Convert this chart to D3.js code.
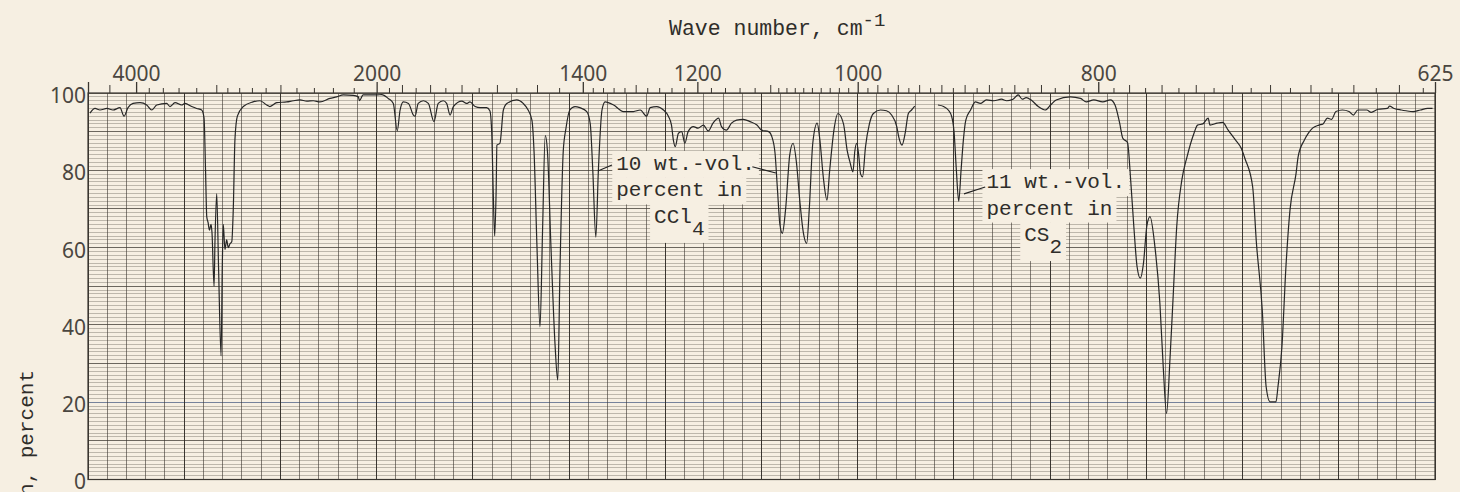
<!DOCTYPE html>
<html><head><meta charset="utf-8">
<script src="https://cdn.jsdelivr.net/npm/d3@7"></script>
<style>html,body{margin:0;padding:0;background:#f6efe2;} svg{display:block}</style>
</head><body>
<svg id="c" width="1460" height="492"></svg>
<script>
// ---- Data: CCl4 solution segment (wave number, cm-1 / transmission, %)
const wnCCl4 = [4949,4824,4707,4551,4425,4287,4212,4139,4052,3936,
3831,3756,3684,3549,3506,3443,3363,3324,3249,3195,
3143,3119,3104,3092,3079,3065,3050,3041,3021,3012,
2996,2979,2956,2945,2936,2921,2906,2892,2877,2862,
2849,2835,2815,2767,2692,2640,2592,2570,2524,2460,
2419,2379,2340,2303,2267,2215,2181,2149,2102,2079,
2074,2058,2000,1979,1953,1933,1918,1907,1895,1876,
1858,1852,1841,1823,1806,1787,1773,1757,1746,1735,
1725,1699,1685,1675,1660,1646,1628,1619,1614,1610,
1606,1602,1600,1592,1583,1574,1549,1533,1521,1512,
1507,1500,1493,1487,1481,1476,1468,1459,1453,1448,
1441,1435,1427,1416,1406,1392,1385,1380,1374,1369,
1362,1356,1340,1322,1304,1292,1281,1275,1264,1253,
1245,1240,1237,1234,1229,1224,1219,1214,1206,1199,
1191,1184,1177,1169,1165,1158,1151,1144,1135,1126,
1117,1111,1102,1098,1094,1091,1088,1085,1081,1076,
1072,1068,1064,1060,1056,1053,1049,1044,1041,1037,
1033,1030,1025,1021,1015,1011,1008,1005,1003,1001,
999,997,995,992,988,984,977,971,966,961,
959,956,953,950,947,944];
const tCCl4 = [94.8,96.0,95.6,96.0,95.6,96.2,94.0,96.2,97.3,97.5,
96.9,95.6,96.9,97.3,96.5,97.5,96.9,97.3,96.5,96.0,
95.6,93.5,80,68,66.5,64.5,66,64,50,62,
74,55,32,55,66,59.5,62,60,61,61.5,
70,88,94,96.5,97.7,98.0,96.9,96.5,97.5,97.7,
98.0,98.2,97.9,98.0,97.7,98.6,99.0,99.5,99.4,99.0,
98.0,99.5,99.5,99.6,98.6,97.3,90.2,95.6,97.7,97.3,
94.3,94.0,97.3,98.0,97.3,92.6,97.3,98.0,97.3,94.3,
96.5,97.9,97.3,97.7,96.5,96.2,96.2,95.4,90,75,
63,75,86.5,87,95.6,97.3,98.2,97.3,95.6,93,
85,60,39.5,65,89,85,60,35,25.7,55,
85,91,95.6,96.5,96.2,95.2,92,80,62.7,80,
95.6,97.7,96.9,95.2,95.2,95.6,94.0,96.2,96.5,95.6,
94.0,91.7,87.8,86.1,89.6,90.0,87.0,90.0,91.3,90.9,
91.7,90.2,92.2,93.5,91.3,90.4,92.2,93.0,93.2,92.6,
91.7,90.4,90.0,88.7,84.4,75,66,63.7,70,84,
87,82,72,64,61.1,70,87,92.2,88,78,
72.3,80,91,94.7,92,85,82,79.6,85,87,
84,79,78.3,86,92,94.7,95.6,95.4,94.3,91.3,
88.5,86.5,89.6,94.7,95.6,96.6];

// ---- Data: CS2 solution segment
const wnCS2 = [923,918,914,911,909,907,905,903,901,899,
895,891,887,882,876,870,866,861,857,854,
851,847,842,837,833,829,819,812,808,803,
797,792,789,786,784,781,779,777,775,773,
771,769,767,764,761,759,757,755,753,751,
748,745,741,739,736,733,732,728,725,722,
718,715,713,709,707,704,702,700,697,696,
694,692,690,687,686,683,681,679,676,674,
672,670,668,665,662,660,658,654,652,649,
645,644,642,639,637,634,631,628,626];
const tCS2 = [96.9,96.5,95.6,93.9,90,80,72,80,88,93,
95.6,97.7,97.3,98.2,98.0,98.4,98.0,98.4,99.5,98.4,
98.8,98.1,96.5,95.6,96.9,98.2,99.0,98.6,97.7,98.2,
97.7,98.2,96.9,92.2,88.3,87.2,77.5,65.4,55.1,52.1,
56,65.4,68.0,60.2,45.6,29.2,17.1,30.9,48.2,65.4,
77.5,83.5,89.6,91.7,92.0,93.5,91.7,92.2,92.4,90.4,
87.8,85.7,83,75.8,61.1,43.9,24.0,20.1,20.1,24.0,
34.4,55.1,69.7,79.2,83.5,87.8,89.6,90.9,91.7,92.0,
93.5,93.2,95.2,95.6,95.2,94.3,95.6,95.6,95.0,95.8,
96.0,96.6,96.0,95.6,95.4,95.2,95.6,96.0,96.0];

// ---- Axis ticks
const xTickLabels = [4000, 2000, 1400, 1200, 1000, 800, 625];
const xEdgeTicks = [5000];
const xMinorTicks = [4500, 3800, 3600, 3400, 3200,
  ...d3.range(3000, 2000, -100),
  ...d3.range(1950, 1400, -50),
  ...d3.range(1380, 1200, -20),
  ...d3.range(1180, 1100, -20),
  ...d3.range(1100, 1000, -10),
  ...d3.range(990, 800, -10),
  ...d3.range(790, 625, -10)];
const yTickLabels = [0, 20, 40, 60, 80, 100];
const gridWavelengths = d3.range(0, 71).map(i => 2 + i * 0.2); // micrometres
const gridPercents = d3.range(0, 101);

// ---- Annotations
const notes = [
  {wn: 1335, t: 80.1, lines: [{s: "10 wt.-vol."}, {s: "percent in"}, {s: "CCl", sub: "4", indent: 3}]},
  {wn: 882, t: 75.4, lines: [{s: "11 wt.-vol."}, {s: "percent in"}, {s: "CS", sub: "2", indent: 3}]}
];
const leaders = [[1370, 79.8, 1343, 81.4], [1123, 80.9, 1093, 79.3], [900.5, 73.9, 883, 75.7]];

// ---- Drawing
const W = 1460, H = 492;
const svg = d3.select('#c');
const x = d3.scalePow().exponent(-1).domain([5000, 625]).range([88, 1435]);
const y = d3.scaleLinear().domain([0, 100]).range([479.5, 93]);
const [x0, x1] = x.range();
const [yb, yt] = y.range();

svg.append('rect').attr('width', W).attr('height', H).attr('fill', '#f6efe2');

const grid = svg.append('g').attr('shape-rendering', 'crispEdges');
grid.selectAll('line.h').data(gridPercents).join('line')
  .attr('x1', x0).attr('x2', x1)
  .attr('y1', d => y(d)).attr('y2', d => y(d))
  .attr('stroke', d => d === 20 ? '#56688a' : '#4a453d')
  .attr('stroke-opacity', d => d % 10 === 0 ? 0.8 : 0.33)
  .attr('stroke-width', 1);
grid.selectAll('line.v').data(gridWavelengths).join('line')
  .attr('x1', d => x(1e4 / d)).attr('x2', d => x(1e4 / d))
  .attr('y1', yt).attr('y2', yb)
  .attr('stroke', (d, i) => i % 5 === 0 ? '#2f2b26' : '#3f3a33')
  .attr('stroke-opacity', (d, i) => i % 5 === 0 ? 0.95 : 0.62)
  .attr('stroke-width', 1);

svg.append('rect').attr('x', x0).attr('y', yt).attr('width', x1 - x0).attr('height', yb - yt)
  .attr('fill', 'none').attr('stroke', '#3a3630').attr('stroke-width', 1.2);

// top ticks
function tickLen(w) {
  if (w >= 2000) return (w % 500 === 0) ? 8 : 5;
  if (w > 1000) return (w % 100 === 0) ? 8 : 5;
  return (w % 20 === 0) ? 8 : 5;
}
const lenGroups = d3.group(xMinorTicks, tickLen);
for (const [len, vals] of lenGroups) {
  const g = svg.append('g').attr('transform', `translate(0,${yt})`)
    .call(d3.axisTop(x).tickValues(vals).tickSize(len).tickSizeOuter(0).tickFormat(''));
  g.select('.domain').remove();
  g.selectAll('line').attr('stroke', '#3a3630').attr('stroke-width', 1);
}
const gMaj = svg.append('g').attr('transform', `translate(0,${yt})`)
  .call(d3.axisTop(x).tickValues(xTickLabels.concat(xEdgeTicks)).tickSize(11).tickSizeOuter(0)
    .tickPadding(1).tickFormat(d => xTickLabels.includes(d) ? d3.format('d')(d) : ''));
gMaj.select('.domain').remove();
gMaj.selectAll('line').attr('stroke', '#3a3630').attr('stroke-width', 1.3);
gMaj.selectAll('text').attr('font-family', '"Noto Sans", sans-serif').attr('font-size', 21)
  .attr('fill', '#4a4640');

// y ticks
const gY = svg.append('g').attr('transform', `translate(${x0},0)`)
  .call(d3.axisLeft(y).tickValues(yTickLabels).tickSize(0).tickPadding(2).tickFormat(d3.format('d')));
gY.select('.domain').remove();
gY.selectAll('text').attr('font-family', '"Noto Sans", sans-serif').attr('font-size', 21)
  .attr('fill', '#4a4640').attr('dy', '0.45em');

// titles
const mono = '"Liberation Mono", "DejaVu Sans Mono", monospace';
const title = svg.append('text').attr('x', 669).attr('y', 35)
  .attr('font-family', mono).attr('font-size', 21.5).attr('fill', '#2f2d2a')
  .text('Wave number, cm');
title.append('tspan').attr('dy', -9).attr('font-size', 19).text('-1');

svg.append('text').attr('transform', 'translate(33,370) rotate(-90)')
  .attr('text-anchor', 'end').attr('font-family', mono).attr('font-size', 21)
  .attr('fill', '#2f2d2a').text('Transmission, percent');

// spectrum
const line = d3.line().x(d => x(d[0])).y(d => y(d[1])).curve(d3.curveMonotoneX);
const seg1 = wnCCl4.map((w, i) => [w, tCCl4[i]]);
const seg2 = wnCS2.map((w, i) => [w, tCS2[i]]);
svg.selectAll('path.spec').data([seg1, seg2]).join('path')
  .attr('class', 'spec').attr('d', line)
  .attr('fill', 'none').attr('stroke', '#262626').attr('stroke-width', 1.2)
  .attr('stroke-linejoin', 'round');

// annotations
const charW = 12.6, lineH = 26.5;
notes.forEach(n => {
  const ax = x(n.wn), ay = y(n.t);
  const g = svg.append('g');
  n.lines.forEach((ln, i) => {
    const t = g.append('text').attr('x', ax + (ln.indent || 0) * charW).attr('y', ay + i * lineH)
      .attr('font-family', mono).attr('font-size', 21).attr('fill', '#2f2d2a').text(ln.s);
    if (ln.sub) t.append('tspan').attr('dy', 12).text(ln.sub);
    const bb = t.node().getBBox();
    g.insert('rect', 'text').attr('x', bb.x - 4).attr('y', bb.y - 2)
      .attr('width', bb.width + 8).attr('height', bb.height + 4).attr('fill', '#f6efe2');
  });
});
svg.selectAll('line.lead').data(leaders).join('line')
  .attr('x1', d => x(d[0])).attr('y1', d => y(d[1]))
  .attr('x2', d => x(d[2])).attr('y2', d => y(d[3]))
  .attr('stroke', '#222').attr('stroke-width', 1.1);
</script>
</body></html>
